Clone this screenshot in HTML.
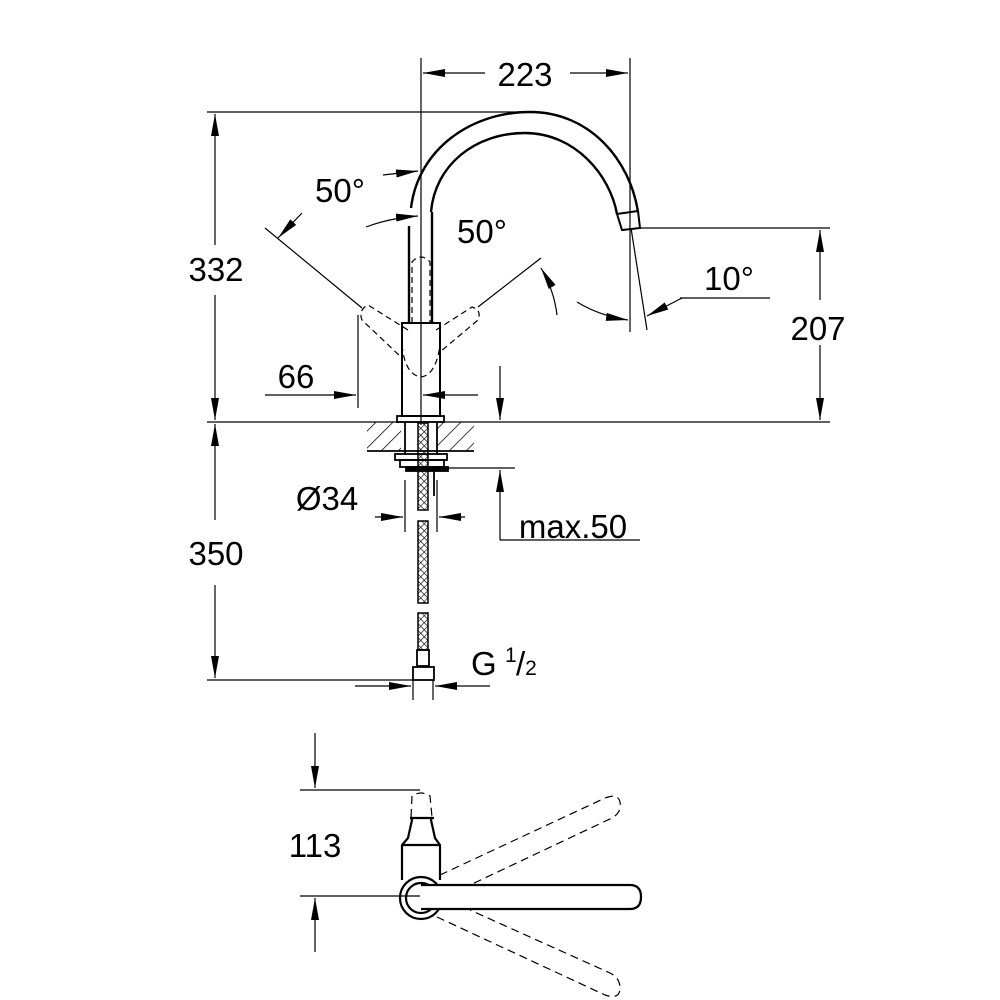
<!DOCTYPE html>
<html><head><style>
html,body{margin:0;padding:0;background:#fff}
svg{display:block}
text{font-family:"Liberation Sans",Arial,sans-serif;fill:#000}
</style></head><body>
<svg width="1000" height="1000" viewBox="0 0 1000 1000" xmlns="http://www.w3.org/2000/svg">
<defs>
<marker id="a" viewBox="0 0 22 8" refX="22" refY="4" markerWidth="22" markerHeight="8" markerUnits="userSpaceOnUse" orient="auto"><path d="M0,0L22,4L0,8z"/></marker>
<pattern id="h" width="12" height="12" patternUnits="userSpaceOnUse" patternTransform="rotate(45)"><line x1="0" y1="0" x2="0" y2="12" stroke="#000" stroke-width="1.5"/></pattern>
<pattern id="x" width="5" height="5" patternUnits="userSpaceOnUse" patternTransform="rotate(45)"><path d="M0,0H5M0,0V5" stroke="#000" stroke-width="1.2"/></pattern>
</defs>
<g stroke="#000" fill="none" stroke-width="1.2">
<line x1="421" y1="58" x2="421" y2="425"/>
<line x1="630" y1="58" x2="630" y2="332"/>
<line x1="485" y1="73" x2="423" y2="73" marker-end="url(#a)"/>
<line x1="570" y1="73" x2="628" y2="73" marker-end="url(#a)"/>
<line x1="207" y1="112" x2="530" y2="112"/>
<line x1="215" y1="245" x2="215" y2="114" marker-end="url(#a)"/>
<line x1="215" y1="295" x2="215" y2="420" marker-end="url(#a)"/>
<line x1="207" y1="422" x2="830" y2="422"/>
<line x1="640" y1="228" x2="830" y2="228"/>
<line x1="820" y1="300" x2="820" y2="230" marker-end="url(#a)"/>
<line x1="820" y1="345" x2="820" y2="420" marker-end="url(#a)"/>
<line x1="358" y1="315" x2="358" y2="408"/>
<line x1="265" y1="395" x2="356" y2="395" marker-end="url(#a)"/>
<line x1="478" y1="395" x2="423" y2="395" marker-end="url(#a)"/>
<line x1="500" y1="366" x2="500" y2="420" marker-end="url(#a)"/>
<line x1="265" y1="228" x2="362" y2="308"/>
<line x1="302" y1="213" x2="278" y2="238" marker-end="url(#a)"/>
<line x1="383" y1="175" x2="418" y2="171" marker-end="url(#a)"/>
<path d="M366,227 Q390,218 418,216" marker-end="url(#a)"/>
<line x1="541" y1="258" x2="478" y2="307"/>
<path d="M557,315 Q554,290 541,268" marker-end="url(#a)"/>
<line x1="631" y1="228" x2="647" y2="330"/>
<path d="M577,302 Q600,316 628,320" marker-end="url(#a)"/>
<line x1="682" y1="298" x2="647" y2="316" marker-end="url(#a)"/>
<line x1="680" y1="298" x2="770" y2="298"/>
</g>
<g stroke="#000" fill="none" stroke-width="2.4">
<path d="M411,208 C418,150 470,112 530,112 C590,112 630,160 638,212"/>
<path d="M431,212 C435,165 475,133 525,133 C575,133 610,175 617,214"/>
<path d="M617,214 L638,211 L640,228 L622,230 Z" stroke-width="2"/>
<line x1="409" y1="226" x2="409" y2="323"/>
<line x1="432" y1="212" x2="432" y2="323"/>
<rect x="402" y="323" width="38" height="93" stroke-width="2"/>
<rect x="397" y="416" width="47" height="6" stroke-width="1.8"/>
</g>
<line x1="421" y1="200" x2="421" y2="425" stroke="#000" stroke-width="1"/>
<g stroke="#000" fill="none" stroke-width="1.2" stroke-dasharray="6,4">
<path d="M412,323 L412,262 Q421,252 430,262 L430,323"/>
<path d="M408,330 L368,305 Q358,310 362,320 L402,358"/>
<path d="M436,330 L472,307 Q482,310 478,320 L440,352"/>
<path d="M402,345 Q405,375 421,377 Q436,375 440,345"/>
</g>
<rect x="367" y="422" width="34" height="29" fill="url(#h)"/>
<rect x="437" y="422" width="37" height="29" fill="url(#h)"/>
<g stroke="#000" fill="none" stroke-width="1.8">
<line x1="367" y1="451" x2="474" y2="451"/>
<line x1="405" y1="422" x2="405" y2="455"/>
<line x1="437" y1="422" x2="437" y2="455"/>
<rect x="395" y="454" width="52" height="6"/>
<rect x="400" y="460" width="44" height="7"/>
<rect x="406" y="467" width="42" height="4" fill="#000"/>
<line x1="434" y1="471" x2="434" y2="496"/>
</g>
<g stroke="#000" stroke-width="1.5" fill="url(#x)">
<rect x="418" y="423" width="10" height="87"/>
<rect x="418" y="521" width="10" height="82"/>
<rect x="418" y="613" width="10" height="37"/>
</g>
<g stroke="#000" fill="none" stroke-width="1.8">
<rect x="417" y="650" width="12" height="16"/>
<rect x="413" y="667" width="21" height="13"/>
</g>
<g stroke="#000" fill="none" stroke-width="1.2">
<line x1="440" y1="468" x2="515" y2="468"/>
<line x1="405" y1="480" x2="405" y2="532"/>
<line x1="437" y1="480" x2="437" y2="532"/>
<line x1="375" y1="517" x2="403" y2="517" marker-end="url(#a)"/>
<line x1="465" y1="517" x2="439" y2="517" marker-end="url(#a)"/>
<line x1="500" y1="540" x2="500" y2="470" marker-end="url(#a)"/>
<line x1="500" y1="540" x2="640" y2="540"/>
<line x1="215" y1="520" x2="215" y2="424" marker-end="url(#a)"/>
<line x1="215" y1="585" x2="215" y2="678" marker-end="url(#a)"/>
<line x1="207" y1="680" x2="413" y2="680"/>
<line x1="413" y1="680" x2="413" y2="700"/>
<line x1="433" y1="680" x2="433" y2="700"/>
<line x1="355" y1="686" x2="411" y2="686" marker-end="url(#a)"/>
<line x1="490" y1="686" x2="435" y2="686" marker-end="url(#a)"/>
<line x1="315" y1="733" x2="315" y2="788" marker-end="url(#a)"/>
<line x1="300" y1="790" x2="420" y2="790"/>
<line x1="300" y1="896" x2="420" y2="896"/>
<line x1="315" y1="952" x2="315" y2="898" marker-end="url(#a)"/>
</g>
<g stroke="#000" fill="none" stroke-width="2.2">
<path d="M411,817 L412,820 L408,838 L402,845 L402,880 M440,880 L440,845 L435,838 L431,820 L432,817"/>
<line x1="410" y1="818" x2="434" y2="818"/>
<line x1="402" y1="845" x2="440" y2="845"/>
<circle cx="421" cy="898" r="21"/>
<circle cx="421" cy="898" r="15"/>
<path d="M421,885 L630,885 Q641,885 641,897 Q641,909 630,909 L421,909" fill="#fff"/>
</g>
<g stroke="#000" fill="none" stroke-width="1.2" stroke-dasharray="8,5">
<path d="M411,817 L412,796 Q421,790 430,796 L432,817"/>
<path d="M440,875 L605,798 Q618,793 620,802 Q622,812 612,818 L470,885"/>
<path d="M437,917 L605,995 Q620,1000 620,988 Q620,978 610,973 L470,910"/>
</g>
<g font-size="33">
<text x="525" y="86" text-anchor="middle">223</text>
<text x="216" y="281" text-anchor="middle">332</text>
<text x="340" y="202" text-anchor="middle">50°</text>
<text x="482" y="243" text-anchor="middle">50°</text>
<text x="729" y="290" text-anchor="middle">10°</text>
<text x="818" y="340" text-anchor="middle">207</text>
<text x="296" y="388" text-anchor="middle">66</text>
<text x="327" y="510" text-anchor="middle">Ø34</text>
<text x="573" y="538" text-anchor="middle">max.50</text>
<text x="216" y="565" text-anchor="middle">350</text>
<text x="471" y="675">G</text>
<text x="505" y="662" font-size="21">1</text>
<text x="516" y="675">/<tspan font-size="21">2</tspan></text>
<text x="315" y="857" text-anchor="middle">113</text>
</g>
</svg>
</body></html>
